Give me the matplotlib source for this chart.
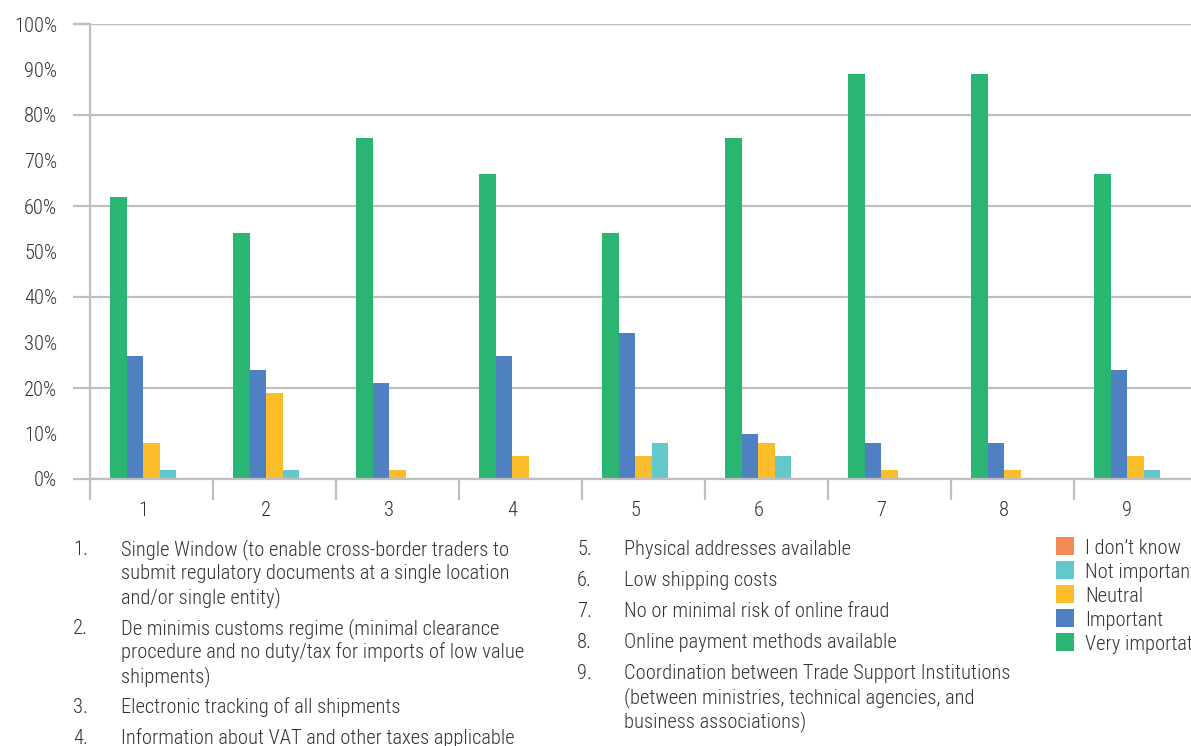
import matplotlib
matplotlib.use("Agg")
import matplotlib.pyplot as plt
from matplotlib import font_manager
from matplotlib.patches import Rectangle

# Figure size in pixels, everything below is laid out on this grid
W, H = 1191, 746

categories = ["1", "2", "3", "4", "5", "6", "7", "8", "9"]

very_important = [62, 54, 75, 67, 54, 75, 89, 89, 67]
important = [27, 24, 21, 27, 32, 10, 8, 8, 24]
neutral = [8, 19, 2, 5, 5, 8, 2, 2, 5]
not_important = [2, 2, 0, 0, 8, 5, 0, 0, 2]
dont_know = [0, 0, 0, 0, 0, 0, 0, 0, 0]

series_names = ["Very importat", "Important", "Neutral", "Not important", "I don\u2019t know"]
series_values = [very_important, important, neutral, not_important, dont_know]
series_colors = ["#2ab573", "#4f80c1", "#fcbd2a", "#63c8c9", "#f68a55"]

left_items = [
    ("1.", ["Single Window (to enable cross-border traders to",
            "submit regulatory documents at a single location",
            "and/or single entity)"]),
    ("2.", ["De minimis customs regime (minimal clearance",
            "procedure and no duty/tax for imports of low value",
            "shipments)"]),
    ("3.", ["Electronic tracking of all shipments"]),
    ("4.", ["Information about VAT and other taxes applicable"]),
]
right_items = [
    ("5.", ["Physical addresses available"]),
    ("6.", ["Low shipping costs"]),
    ("7.", ["No or minimal risk of online fraud"]),
    ("8.", ["Online payment methods available"]),
    ("9.", ["Coordination between Trade Support Institutions",
            "(between ministries, technical agencies, and",
            "business associations)"]),
]

# narrowest family on hand goes first
installed = {f.name for f in font_manager.fontManager.ttflist}
families = [f for f in ["Roboto Condensed", "DejaVu Sans Condensed",
                        "Liberation Sans Narrow", "Roboto"] if f in installed]
plt.rcParams['font.family'] = families + ['DejaVu Sans']
plt.rcParams['font.weight'] = 'light'
TEXT = "#333333"
GRID = "#bfbfc3"
FS = 14.8

fig = plt.figure(figsize=(W / 100, H / 100), dpi=100)
fig.patch.set_facecolor("white")

# plot area: x from 90px, 0% at y=479px, 100% at y=24px, 123px per category
ax = fig.add_axes([90 / W, 1 - 479 / H, 1107 / W, 455 / H])

bar_w = 0.134
xs = list(range(len(categories)))
for i, (name, vals, color) in enumerate(zip(series_names, series_values, series_colors)):
    ax.bar([c + (i - 2) * bar_w for c in xs], vals, width=bar_w,
           color=color, label=name, linewidth=0)

ax.set_xlim(-0.5, len(categories) - 0.5)
ax.set_ylim(0, 100)
ax.set_axisbelow(True)

# y axis: labels every 10%, gridlines and ticks only every 20%
ax.set_yticks(range(0, 101, 20))
ax.set_yticklabels([f"{v}%" for v in range(0, 101, 20)])
ax.set_yticks(range(10, 100, 20), minor=True)
ax.set_yticklabels([f"{v}%" for v in range(10, 100, 20)], minor=True)
ax.yaxis.grid(True, which="major", color=GRID, linewidth=1.6)
ax.tick_params(axis="y", which="major", length=12.2, width=1.6, color=GRID,
               pad=11.5, labelsize=FS, labelcolor=TEXT)
ax.tick_params(axis="y", which="minor", length=0, pad=23.7,
               labelsize=FS, labelcolor=TEXT)

# x axis: separators between categories, labels under the visible bars
ax.set_xticks([c - 0.5 for c in xs])
ax.set_xticklabels([])
ax.set_xticks([c - bar_w / 2 for c in xs], minor=True)
ax.set_xticklabels(categories, minor=True)
ax.tick_params(axis="x", which="major", length=15, width=1.6, color=GRID)
ax.tick_params(axis="x", which="minor", length=0, pad=16,
               labelsize=FS, labelcolor=TEXT)

for side in ("top", "right"):
    ax.spines[side].set_visible(False)
for side in ("left", "bottom"):
    ax.spines[side].set_color(GRID)
    ax.spines[side].set_linewidth(1.6)

# legend, top entry first
for k, (name, color) in enumerate(zip(series_names[::-1], series_colors[::-1])):
    yc = 546 + 24 * k
    fig.patches.append(Rectangle((1056 / W, 1 - (yc + 9) / H), 18 / W, 18 / H,
                                 transform=fig.transFigure, figure=fig,
                                 facecolor=color, edgecolor="none"))
    fig.text(1085 / W, 1 - (yc + 8) / H, name, fontsize=FS, color=TEXT,
             va="baseline", ha="left")


def draw_items(items, num_x, text_x, baseline):
    for num, lines in items:
        fig.text(num_x / W, 1 - baseline / H, num, fontsize=FS, color=TEXT,
                 va="baseline", ha="left")
        for line in lines:
            fig.text(text_x / W, 1 - baseline / H, line, fontsize=FS, color=TEXT,
                     va="baseline", ha="left")
            baseline += 24
        baseline += 7


draw_items(left_items, 73, 121, 555)
draw_items(right_items, 577, 624, 555)

fig.text(1037 / W, 1 - 761 / H, "Source: UNCTAD", fontsize=FS, color=TEXT,
         va="baseline", ha="left")

fig.savefig("out.png", dpi=100)
